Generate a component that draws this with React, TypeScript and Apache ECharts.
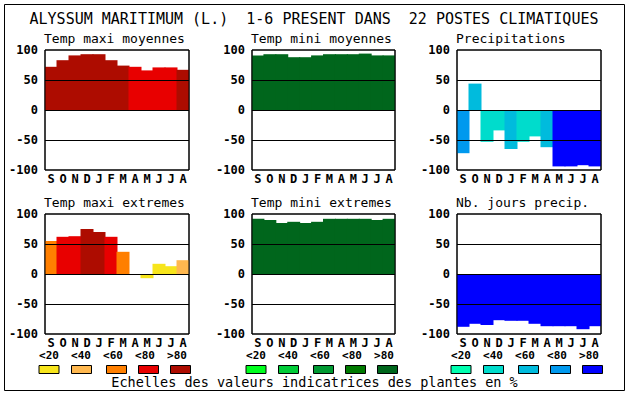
import React, { useEffect, useRef } from "react";
import * as echarts from "echarts";

const MONTHS = ["S", "O", "N", "D", "J", "F", "M", "A", "M", "J", "J", "A"];

// Panel values
const maxiMoy = [72, 83, 91, 93, 93, 83, 74, 72, 66, 71, 71, 67];
const maxiMoyCls = [4, 4, 4, 4, 4, 4, 4, 3, 3, 3, 3, 4];
const miniMoy = [91, 93, 93, 88, 88, 91, 93, 93, 93, 94, 91, 91];
const miniMoyCls = [4, 4, 4, 4, 4, 4, 4, 4, 4, 4, 4, 4];
const precip = [-72, 44, -53, -34, -65, -53, -44, -62, -94, -94, -92, -94];
const precipCls = [3, 2, 1, 1, 2, 1, 1, 2, 4, 4, 4, 4];
const maxiExt = [55, 62, 63, 75, 70, 62, 37, 0, -7, 17, 13, 23];
const maxiExtCls = [2, 3, 3, 4, 4, 3, 2, 0, 0, 0, 0, 1];
const miniExt = [92, 90, 85, 87, 85, 87, 92, 92, 92, 92, 90, 92];
const miniExtCls = [4, 4, 4, 4, 4, 4, 4, 4, 4, 4, 4, 4];
const joursPrecip = [-88, -83, -85, -77, -78, -78, -83, -87, -87, -87, -92, -87];
const joursPrecipCls = [4, 4, 4, 4, 4, 4, 4, 4, 4, 4, 4, 4];

const Y_TICKS = [-100, 100, 50];
const LEGEND_LABELS = ["<20", "<40", "<60", "<80", ">80"];

const RED_SCALE = ["#f7e51c", "#ffb84f", "#ff7f00", "#e80000", "#ad0c00"];
const GREEN_SCALE = ["#00ff1e", "#00cc38", "#009932", "#007a00", "#00661c"];
const BLUE_SCALE = ["#00ffb0", "#00dccc", "#00bbdd", "#0099ee", "#0000ff"];

const TITLE = "ALYSSUM MARITIMUM (L.)  1-6 PRESENT DANS  22 POSTES CLIMATIQUES";
const FOOTER = "Echelles des valeurs indicatrices des plantes en %";

const FONT = "DejaVu Sans Mono";

const PANELS = [
  { title: "Temp maxi moyennes", values: maxiMoy, cls: maxiMoyCls, scale: RED_SCALE, left: 45, top: 50, width: 144 },
  { title: "Temp mini moyennes", values: miniMoy, cls: miniMoyCls, scale: GREEN_SCALE, left: 252, top: 50, width: 143 },
  { title: "Precipitations", values: precip, cls: precipCls, scale: BLUE_SCALE, left: 457, top: 50, width: 144 },
  { title: "Temp maxi extremes", values: maxiExt, cls: maxiExtCls, scale: RED_SCALE, left: 45, top: 214, width: 144 },
  { title: "Temp mini extremes", values: miniExt, cls: miniExtCls, scale: GREEN_SCALE, left: 252, top: 214, width: 143 },
  { title: "Nb. jours precip.", values: joursPrecip, cls: joursPrecipCls, scale: BLUE_SCALE, left: 457, top: 214, width: 144 },
];

const PLOT_H = 120;
const BOX_OFFSETS = [-6, 26.5, 61.5, 93.5, 125.5];
const LABEL_OFFSETS = [4, 36, 68, 100, 132];

export default function App() {
  const ref = useRef<HTMLDivElement>(null);

  useEffect(() => {
    if (!ref.current) return;
    const chart = echarts.init(ref.current, null, { renderer: "svg" });

    const grids: any[] = [];
    const xAxes: any[] = [];
    const yAxes: any[] = [];
    const series: any[] = [];
    const graphics: any[] = [];

    graphics.push({
      type: "rect",
      shape: { x: 4.5, y: 4.5, width: 620, height: 386 },
      style: { fill: "none", stroke: "#000", lineWidth: 1 },
      silent: true,
    });
    graphics.push({
      type: "text",
      x: 314,
      y: 18.5,
      style: {
        text: TITLE,
        fontFamily: FONT,
        fontSize: 15,
        fill: "#000",
        align: "center",
        verticalAlign: "middle",
      },
    });
    graphics.push({
      type: "text",
      x: 314.5,
      y: 382,
      style: {
        text: FOOTER,
        fontFamily: FONT,
        fontSize: 13.5,
        fill: "#000",
        align: "center",
        verticalAlign: "middle",
      },
    });

    PANELS.forEach((p, i) => {
      grids.push({
        left: p.left,
        top: p.top,
        width: p.width,
        height: PLOT_H,
        show: true,
        borderColor: "#000",
        borderWidth: 1,
        backgroundColor: "#fff",
        containLabel: false,
      });
      xAxes.push({
        type: "category",
        gridIndex: i,
        data: MONTHS,
        axisLine: { show: false, onZero: false },
        axisTick: { show: false },
        splitLine: { show: false },
        axisLabel: {
          interval: 0,
          margin: 3,
          color: "#000",
          fontFamily: FONT,
          fontWeight: "bold",
          fontSize: 12,
        },
      });
      yAxes.push({
        type: "value",
        gridIndex: i,
        min: Y_TICKS[0],
        max: Y_TICKS[1],
        interval: Y_TICKS[2],
        axisLine: { show: false },
        axisTick: { show: false },
        splitLine: { show: false },
        axisLabel: {
          margin: 7,
          color: "#000",
          fontFamily: FONT,
          fontWeight: "bold",
          fontSize: 12,
        },
      });
      series.push({
        type: "bar",
        xAxisIndex: i,
        yAxisIndex: i,
        barWidth: (p.width / MONTHS.length) + 1,
        data: p.values.map((v, k) => ({
          value: v,
          itemStyle: { color: p.scale[p.cls[k]] },
        })),
        markLine: {
          silent: true,
          symbol: ["none", "none"],
          label: { show: false },
          lineStyle: { color: "#000", width: 1, type: "solid" },
          data: [{ yAxis: 50 }, { yAxis: 0 }, { yAxis: -50 }],
        },
      });

      // plot frame drawn above the bars
      graphics.push({
        type: "rect",
        z: 100,
        silent: true,
        shape: { x: p.left, y: p.top, width: p.width, height: PLOT_H },
        style: { fill: "none", stroke: "#000", lineWidth: 1 },
      });

      graphics.push({
        type: "text",
        x: p.left - 1,
        y: p.top - 12,
        style: {
          text: p.title,
          fontFamily: FONT,
          fontSize: 13,
          fill: "#000",
          align: "left",
          verticalAlign: "middle",
        },
      });

      if (i >= 3) {
        LEGEND_LABELS.forEach((lab, k) => {
          graphics.push({
            type: "text",
            x: p.left + LABEL_OFFSETS[k],
            y: 355,
            style: {
              text: lab,
              fontFamily: FONT,
              fontSize: 11,
              fontWeight: "bold",
              fill: "#000",
              align: "center",
              verticalAlign: "middle",
            },
          });
          graphics.push({
            type: "rect",
            shape: { x: p.left + BOX_OFFSETS[k], y: 365.5, width: 20, height: 8 },
            style: { fill: p.scale[k], stroke: "#000", lineWidth: 1 },
          });
        });
      }
    });

    chart.setOption({
      animation: false,
      backgroundColor: "#fff",
      grid: grids,
      xAxis: xAxes,
      yAxis: yAxes,
      series,
      graphic: graphics,
    });

    return () => chart.dispose();
  }, []);

  return (
    <div
      ref={ref}
      style={{ position: "fixed", left: 0, top: 0, width: 630, height: 394 }}
    />
  );
}
